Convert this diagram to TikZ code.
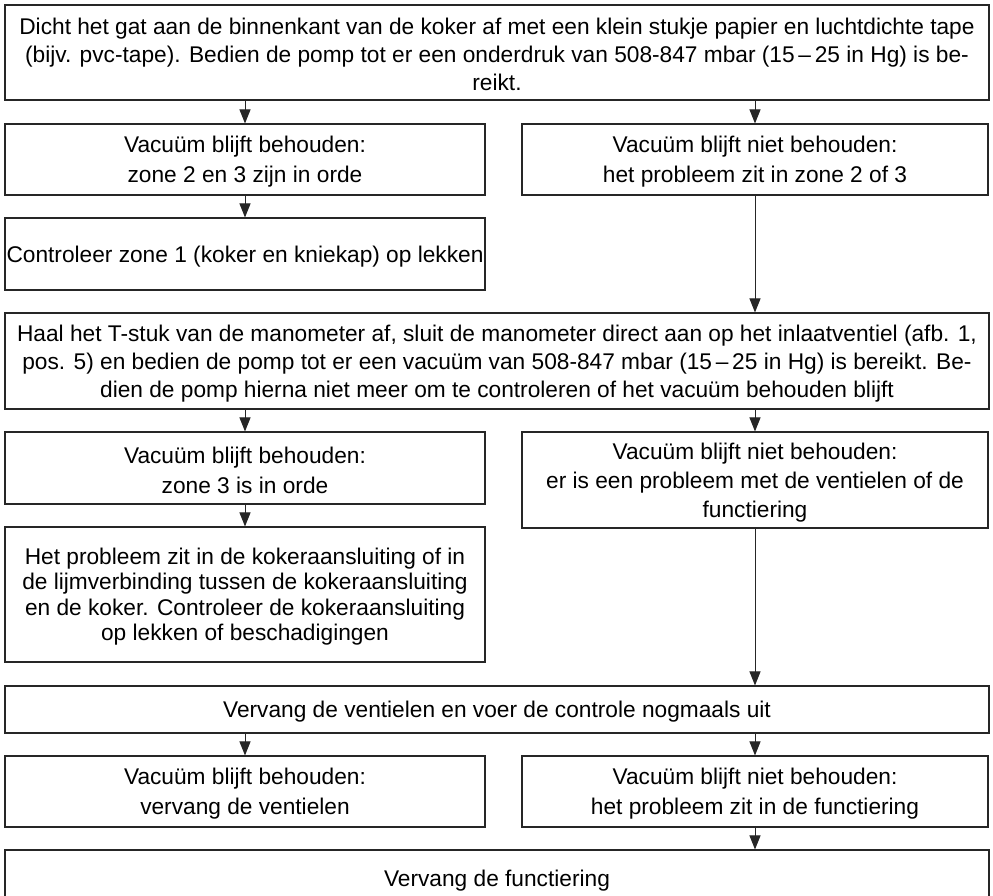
\documentclass[tikz,border=0pt]{standalone}
\usepackage{fontspec}
\setmainfont{Liberation Sans}
\usetikzlibrary{arrows.meta}
% taller first line, so the text block sits a little lower in its box
\newcommand\firstline{\rule{0pt}{21pt}}
\begin{document}
\begin{tikzpicture}[x=1pt,y=-1pt,
  box/.style={draw=black!85, line width=1.1pt, inner sep=0pt, align=center,
    font=\fontsize{22.7}{#1}\selectfont},
  box/.default=30,
  arr/.style={draw=black!85, line width=1pt, -{Triangle[length=14pt,width=11pt]}}]
\useasboundingbox (0,0) rectangle (993,896);
\clip (0,0) rectangle (993,896);
\fill[white] (0,0) rectangle (993,896);

% first check
\node[box=28, minimum width=984pt, minimum height=95pt] (top) at (497,52.5)
  {\firstline Dicht het gat aan de binnenkant van de koker af met een klein stukje papier en luchtdichte tape\\
   (bijv. pvc-tape). Bedien de pomp tot er een onderdruk van 508-847 mbar (15\,–\,25 in Hg) is be-\\
   reikt.};

\node[box, minimum width=480pt, minimum height=71pt] (l1) at (245,159.5)
  {\firstline Vacuüm blijft behouden:\\ zone 2 en 3 zijn in orde};
\node[box, minimum width=466pt, minimum height=71pt] (r1) at (755,159.5)
  {\firstline Vacuüm blijft niet behouden:\\ het probleem zit in zone 2 of 3};

\node[box, minimum width=480pt, minimum height=72pt] (l2) at (245,254)
  {\firstline Controleer zone 1 (koker en kniekap) op lekken};

% second check, directly on the inlet valve
\node[box=28, minimum width=984pt, minimum height=96pt] (mid) at (497,361)
  {\firstline Haal het T-stuk van de manometer af, sluit de manometer direct aan op het inlaatventiel (afb. 1,\\
   pos. 5) en bedien de pomp tot er een vacuüm van 508-847 mbar (15\,–\,25 in Hg) is bereikt. Be-\\
   dien de pomp hierna niet meer om te controleren of het vacuüm behouden blijft};

\node[box, minimum width=480pt, minimum height=72pt] (l3) at (245,468)
  {\firstline Vacuüm blijft behouden:\\ zone 3 is in orde};
\node[box=29, minimum width=466pt, minimum height=96pt] (r3) at (755,480)
  {\firstline Vacuüm blijft niet behouden:\\ er is een probleem met de ventielen of de\\ functiering};

\node[box=25.5, minimum width=480pt, minimum height=135pt] (l4) at (245,594.5)
  {\firstline Het probleem zit in de kokeraansluiting of in\\
   de lijmverbinding tussen de kokeraansluiting\\
   en de koker. Controleer de kokeraansluiting\\
   op lekken of beschadigingen};

% third check, after replacing the valves
\node[box, minimum width=984pt, minimum height=47pt] (vv) at (497,709.5)
  {\firstline Vervang de ventielen en voer de controle nogmaals uit};

\node[box, minimum width=480pt, minimum height=71pt] (l5) at (245,791.5)
  {\firstline Vacuüm blijft behouden:\\ vervang de ventielen};
\node[box, minimum width=466pt, minimum height=71pt] (r5) at (755,791.5)
  {\firstline Vacuüm blijft niet behouden:\\ het probleem zit in de functiering};

\node[box, minimum width=984pt, minimum height=56pt] (bot) at (497,878)
  {\firstline Vervang de functiering};

% connectors
\draw[arr] (top.south -| l1.north) -- (l1.north);
\draw[arr] (top.south -| r1.north) -- (r1.north);
\draw[arr] (l1.south) -- (l2.north);
\draw[arr] (r1.south) -- (mid.north -| r1.south);
\draw[arr] (mid.south -| l3.north) -- (l3.north);
\draw[arr] (mid.south -| r3.north) -- (r3.north);
\draw[arr] (l3.south) -- (l4.north);
\draw[arr] (r3.south) -- (vv.north -| r3.south);
\draw[arr] (vv.south -| l5.north) -- (l5.north);
\draw[arr] (vv.south -| r5.north) -- (r5.north);
\draw[arr] (r5.south) -- (bot.north -| r5.south);
\end{tikzpicture}
\end{document}
